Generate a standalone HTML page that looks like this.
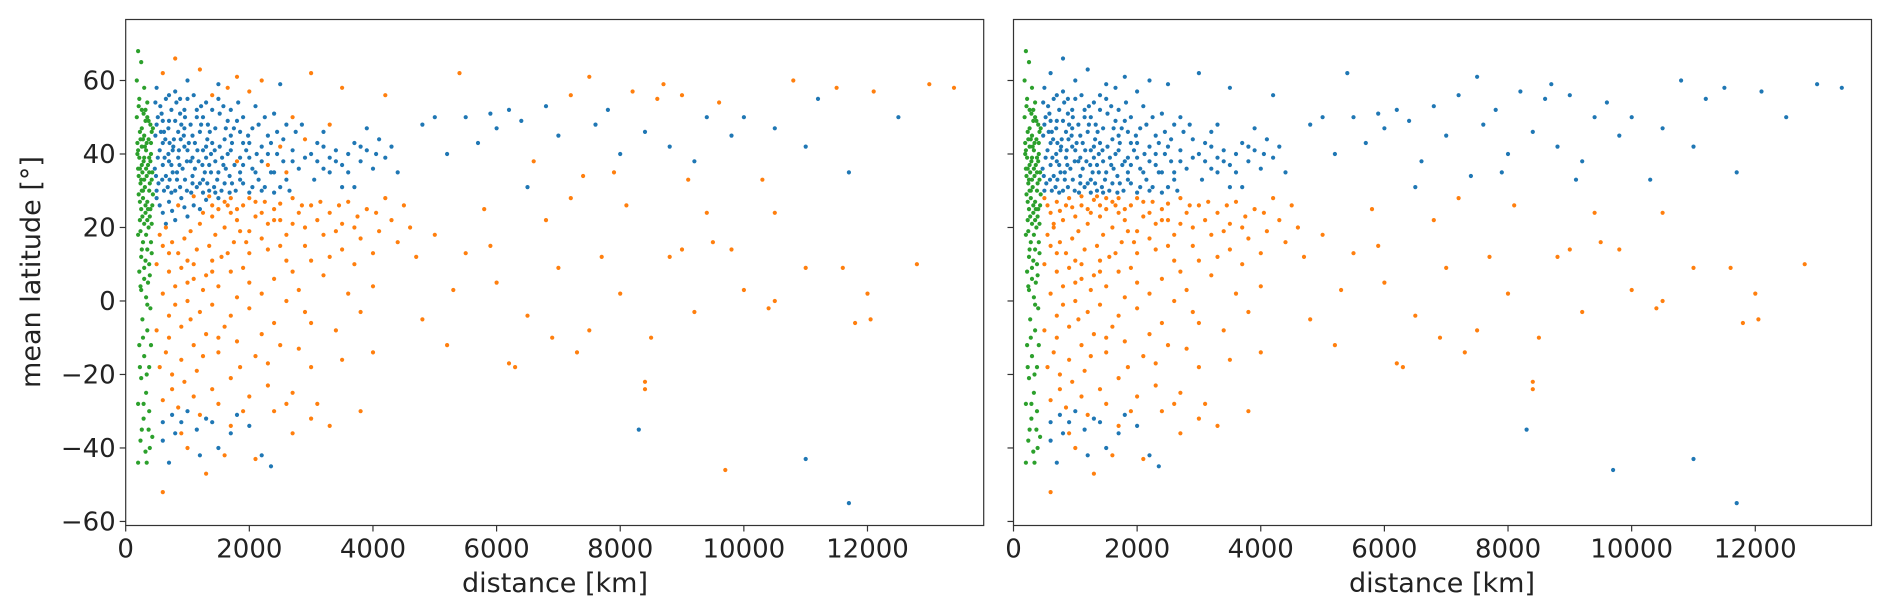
<!DOCTYPE html>
<html><head><meta charset="utf-8"><style>
html,body{margin:0;padding:0;background:#fff;}
svg{display:block;font-family:"DejaVu Sans","Liberation Sans",sans-serif;}
</style></head><body>
<svg id="chart" width="1892" height="615" viewBox="0 0 1892 615">
<g id="p1"></g>
<g id="p2"></g>
<text x="555" y="592" font-size="27" text-anchor="middle" fill="#222">distance [km]</text>
<text x="1442" y="592" font-size="27" text-anchor="middle" fill="#222">distance [km]</text>
<text x="0" y="0" font-size="27" text-anchor="middle" fill="#222" transform="translate(40,272) rotate(-90)">mean latitude [°]</text>
</svg>
<script>
const xTicks=[0,2000,4000,6000,8000,10000,12000];
const yTicks=[60,40,20,0,-20,-40,-60];
const greenPts=[[200,68],[250,65],[180,60],[300,58],[220,55],[350,54],[260,52],[180,50],[320,49],[400,48],[230,46],[300,45],[370,44],[190,43],[260,42],[330,41],[410,40],[220,39],[290,38],[360,37],[200,36],[270,35],[340,34],[420,33],[240,32],[310,31],[380,30],[210,29],[280,28],[350,27],[430,26],[250,25],[320,24],[390,23],[230,22],[300,21],[370,20],[200,18],[280,16],[350,14],[420,13],[250,12],[320,11],[380,10],[220,8],[300,6],[360,5],[250,3],[330,1],[400,-2],[270,-5],[350,-8],[220,-12],[300,-15],[380,-18],[250,-21],[330,-25],[200,-28],[290,-32],[370,-35],[240,-38],[320,-41],[200,-44],[390,-40],[260,47],[340,43],[300,39],[380,35],[250,33],[420,46],[190,40],[350,50],[280,44],[400,38],[230,36],[320,52],[260,30],[360,25],
[210,53],[290,51],[370,49],[440,47],[240,44],[410,43],[310,42],[200,41],[380,39],[260,37],[330,36],[430,35],[210,34],[300,33],[390,32],[280,30],[440,29],[230,27],[320,26],[400,25],[270,23],[350,22],[420,21],[240,19],[330,18],[410,16],[260,14],[300,9],[390,7],[240,4],[350,-1],[280,-10],[410,-12],[230,-18],[340,-20],[290,-28],[380,-30],[260,-35],[340,-44],[430,-37]];
const blueBoth=[[500,58],[650,55],[800,57],[950,52],[1100,56],[1300,54],[1500,55],[1700,52],[1900,50],[2100,53],[2400,51],[2600,48],[520,50],[700,49],[880,51],[1050,48],[1250,50],[1450,47],[1650,49],[1850,46],[2050,47],[2300,45],[2550,44],[2750,46],[480,45],[620,46],[780,44],[940,45],[1120,43],[1320,44],[1520,42],[1720,43],[1950,41],[2200,42],[2450,40],[2700,41],[550,41],[690,40],[850,39],[1000,41],[1180,38],[1380,40],[1580,37],[2050,36],[470,36],[600,37],[760,35],[920,36],[1080,34],[1280,35],[1480,33],[1680,34],[1900,32],[2150,33],[2500,31],[530,32],[680,31],[830,33],[990,30],[1150,31],[1350,30],[1550,30],[1780,30],[2000,29.5],[2400,29.5],[2650,30],[560,53],[740,52],[900,48],[1200,46],[1400,52],[1600,44],[1750,47],[600,43],[760,41],[1050,38],[1350,37],[800,30],[650,34],[1000,55],[1300,42],[1450,38],[1650,40],[1850,35],[2200,38],[1150,52],[850,46],[700,38],[950,42],[1250,33],
[480,54],[580,51],[690,47],[820,54],[960,50],[1080,45],[1220,48],[1360,46],[1520,51],[1620,47],[1800,49],[1980,45],[2150,48],[2350,43],[500,48],[640,44],[770,42],[890,44],[1020,43],[1160,41],[1300,39],[1440,41],[1560,39],[1700,41],[1850,39],[2000,39],[2120,40],[2300,40],[2550,38],[520,39],[630,39],[740,37],[870,37],[990,38],[1120,36],[1240,37],[1380,35],[1500,35],[1620,36],[1760,37],[1900,37],[2100,35],[2350,35],[2600,33],[490,34],[590,33],[710,33],[830,35],[960,33],[1080,32],[1200,32],[1320,32],[1430,31],[1600,32],[1720,32],[1850,33],[2050,31],[2250,31],[500,30],[620,30],[740,29.5],[880,31],[1060,29.5],[1250,29.5],[1450,29.5],[1680,29.5],[2200,30],[700,56],[880,55],[1220,53],[1580,53],[1820,54],[600,49],[950,47],[1150,50],[1330,48],[1700,45],[1900,43],[2250,50],[2450,46],[800,49],[570,46],[710,43],[1080,39],[1400,43],[1250,41],[860,41],[2000,43],[2400,35],[2700,38],[2900,39],[3100,43],[3200,36],[3400,38],[3600,35],[3800,42],[4050,40],
[3000,40],[3100,38],[3200,42],[3300,39],[3400,41],[3500,37],[3600,40],[3700,43],[3800,38],[3900,41],[4000,36],[4100,44],[4200,39],[4400,35],[2850,48],[3050,33],[3300,35],[3500,31],[3700,31],[3900,47],[4300,42],[2800,36],[3200,46],[1000,60],[1500,59],[2500,59],[4800,48],[5000,50],[5200,40],[5500,50],[5700,43],[5900,51],[6000,47],[6200,52],[6400,49],[6800,53],[7000,45],[7600,48],[7800,52],[8000,40],[8400,46],[8800,42],[9200,38],[9400,50],[9800,45],[10000,50],[10500,47],[11000,42],[11200,55],[11700,35],[12500,50],[6500,31],[600,-38],[750,-31],[900,-33],[1000,-30],[1150,-35],[1300,-32],[1500,-40],[1700,-36],[2000,-34],[2200,-42],[2350,-45],[700,-44],[1200,-42],[1800,-31],[8300,-35],[11000,-43],[11700,-55],[800,-36],[1400,-33],[600,-33]];
const blueRightOrangeLeft=[[1800,38],[2300,37],[2600,35],[2900,44],[600,62],[800,66],[1200,63],[1800,61],[2200,60],[3000,62],[3500,58],[4200,56],[5400,62],[7500,61],[8700,59],[12100,57],[8200,57],[9000,56],[9600,54],[10800,60],[11500,58],[13000,59],[13400,58],[7200,56],[8600,55],[7400,34],[10300,33],[9100,33],[6600,38],[7900,35],[9700,-46],[1400,56],[2000,57],[2700,50],[3300,48],[2500,42],[1650,58]];
const orangeRightBlueLeft=[[500,28],[700,27],[900,28],[1100,26],[1300,27.5],[600,24],[800,22],[1000,23],[1500,28],[1200,25],[550,26],[750,24.5],[950,25.5],[650,21]];
const orangeBoth=[[1500,25],[1700,28],[1900,26],[2100,27],[2400,25],[2700,28],[3000,26],[3300,24],[3600,27],[3900,25],[4200,28],[4500,26],[1200,21],[1400,23],[1600,20],[1800,22],[2000,19],[2300,21],[2600,18],[2900,20],[3200,18],[3500,21],[3800,17],[4100,19],[4600,20],[550,18],[750,16],[950,17],[1150,14],[1350,15],[1550,12],[1750,16],[2000,13],[2300,14],[2600,11],[2900,15],[3300,12],[3700,10],[4000,13],[500,10],[700,8],[900,9],[1100,6],[1300,7],[1500,4],[1700,8],[2000,5],[2400,6],[2800,3],[3200,7],[3600,2],[4000,4],[600,2],[800,-1],[1000,0],[1200,-3],[1400,-1],[1700,-4],[2000,-2],[2400,-6],[2900,-3],[500,-8],[700,-10],[900,-7],[1100,-12],[1300,-9],[1500,-14],[1800,-11],[2100,-15],[2500,-12],[3000,-18],[3500,-16],[4000,-14],[550,-18],[750,-20],[950,-22],[1150,-19],[1400,-24],[1700,-21],[2000,-26],[2300,-23],[2700,-25],[3100,-28],[600,-27],[850,-29],[1100,-26],[1500,-28],[1900,-30],[2600,-28],[3300,-34],[3800,-30],[1300,-47],[600,-52],[2100,-43],[1000,-40],[2700,-36],[650,20],[850,26],[1050,19],[1250,24],[1450,18],[1650,26],[1850,19],[2200,24],[2500,22],[2800,24],[700,13],[1000,11],[1250,3],[1600,-7],[1900,9],[2200,-9],[650,-14],[900,-16],[1250,-15],[2700,8],[3400,-8],
[1350,28.5],[1600,27],[1800,25],[2000,28],[2250,27],[2500,26.5],[2850,26],[3150,27],[3450,26],[3750,23],[4050,24],[1100,28.5],[1400,26],[1700,24],[2100,23],[2400,22],[2700,21],[3100,22],[3400,19],[3700,20],[4300,22],[600,15],[850,13],[1100,10],[1400,11],[1650,13],[1950,16],[2200,17],[2500,15],[3000,11],[3500,14],[4400,16],[800,4],[1000,5],[1400,8],[1800,1],[2200,2],[2600,0],[3000,-6],[3800,-3],[700,-4],[1050,-5],[1500,-10],[1850,-18],[2300,-17],[2800,-13],[750,-24],[1200,-31],[1700,-34],[2400,-30],[3000,-32],[900,-36],[1600,-42],
[5000,18],[5500,13],[6000,5],[6500,-4],[7000,9],[7500,-8],[8000,2],[8500,-10],[9000,14],[9500,16],[9800,14],[10000,3],[10500,0],[11000,9],[11600,9],[12000,2],[12800,10],[6200,-17],[7300,-14],[8400,-22],[5200,-12],[4800,-5],[6800,22],[7700,12],[8800,12],[9200,-3],[10400,-2],[11800,-6],[5800,25],[7200,28],[8100,26],[9400,24],[10500,24],[12050,-5],[4700,12],[5300,3],[5900,15],[6300,-18],[6900,-10],[8400,-24]];
const colors={b:'#1f77b4',o:'#ff7f0e',g:'#2ca02c'};
const NS='http://www.w3.org/2000/svg';
const TOP=19.5,BOT=525.5,W=858,XMAX=13880,YMIN=-61.1,YMAX=76.6;
function mk(t,a){const e=document.createElementNS(NS,t);for(const k in a)e.setAttribute(k,a[k]);return e;}
function drawPanel(gid,x0,left){
  const g=document.getElementById(gid);
  const sx=d=>x0+d/XMAX*W;
  const sy=v=>TOP+(YMAX-v)/(YMAX-YMIN)*(BOT-TOP);
  const groups=[[greenPts,'g','g'],[blueBoth,'b','b'],[blueRightOrangeLeft,'o','b'],[orangeRightBlueLeft,'b','o'],[orangeBoth,'o','o']];
  const order=left?[0,3,1,4,2]:[0,1,2,3,4];
  order.forEach(i=>{const [arr,lc,rc]=groups[i];const c=colors[left?lc:rc];
    arr.forEach(p=>{const el=mk('circle',{cx:sx(p[0]).toFixed(1),cy:sy(p[1]).toFixed(1),r:2.1,fill:c});
      
      
      g.appendChild(el);});});
  const fr=mk('rect',{x:x0,y:TOP,width:W,height:BOT-TOP,fill:'none',stroke:'#333','stroke-width':1.2});
  
  
  g.appendChild(fr);
  xTicks.forEach(t=>{const x=sx(t);
    const l=mk('line',{x1:x,x2:x,y1:BOT,y2:BOT+6,stroke:'#333','stroke-width':1.2});
    
    
    g.appendChild(l);
    const tx=mk('text',{x:x,y:BOT+32,'font-size':26,'text-anchor':'middle',fill:'#222'});
    
    
    tx.textContent=t;g.appendChild(tx);});
  yTicks.forEach(t=>{const y=sy(t);
    const l=mk('line',{x1:x0-6,x2:x0,y1:y,y2:y,stroke:'#333','stroke-width':1.2});
    
    
    g.appendChild(l);
    if(left){const tx=mk('text',{x:x0-10,y:y+9,'font-size':26,'text-anchor':'end',fill:'#222'});
      
      
      tx.textContent=t<0?'\u2212'+(-t):t;g.appendChild(tx);}});
}
drawPanel('p1',125.7,true);
drawPanel('p2',1013.5,false);
</script>
</body></html>
